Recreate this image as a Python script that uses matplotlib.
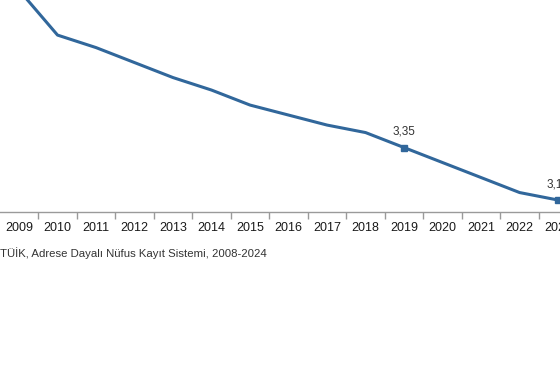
import matplotlib
matplotlib.use("Agg")
import matplotlib.pyplot as plt
from matplotlib.ticker import FixedLocator

# average household size, TÜİK ADNKS
years = [2008, 2009, 2010, 2011, 2012, 2013, 2014, 2015, 2016,
         2017, 2018, 2019, 2020, 2021, 2022, 2023, 2024]
hh_size = [4.00, 3.98, 3.80, 3.75, 3.69, 3.63, 3.58, 3.52, 3.48,
           3.44, 3.41, 3.35, 3.29, 3.23, 3.17, 3.14, 3.11]
labelled_years = [2019, 2023]
year_labels = [str(y) for y in years]
source = "TÜİK, Adrese Dayalı Nüfus Kayıt Sistemi, 2008-2024"

LINE_COLOR = "#31679b"
AXIS_COLOR = "#9a9a9a"

plt.rcParams["font.family"] = ["Liberation Sans", "DejaVu Sans"]

fig = plt.figure(figsize=(5.6, 3.8), dpi=100)
ax = fig.add_axes([0.0, 0.442, 1.0, 0.563])

ax.plot(years, hh_size, color=LINE_COLOR, linewidth=2.2, solid_joinstyle="round")
for yr in labelled_years:
    v = hh_size[years.index(yr)]
    ax.plot(yr, v, marker="s", markersize=4.5, color=LINE_COLOR)
    ax.annotate(f"{v:.2f}".replace(".", ","), (yr, v), xytext=(0, 7),
                textcoords="offset points", ha="center", va="bottom",
                fontsize=8.5, color="#333333")

ax.set_xlim(2008.506, 2023.05)
ax.set_ylim(3.092, 3.948)

ax.xaxis.set_major_locator(FixedLocator(years))
ax.set_xticklabels(year_labels)
ax.xaxis.set_minor_locator(FixedLocator([y + 0.5 for y in years]))
ax.tick_params(axis="x", which="major", length=0, pad=7, labelsize=9,
               labelcolor="#1a1a1a")
ax.tick_params(axis="x", which="minor", length=5, width=1, color=AXIS_COLOR,
               direction="out")
ax.set_yticks([])

for side in ["top", "right", "left"]:
    ax.spines[side].set_visible(False)
ax.spines["bottom"].set_color(AXIS_COLOR)
ax.spines["bottom"].set_linewidth(1.0)

fig.text(0.0, 0.335, source, fontsize=8.2, color="#333333", ha="left", va="center")

fig.savefig("out.png", dpi=100, facecolor="white")
